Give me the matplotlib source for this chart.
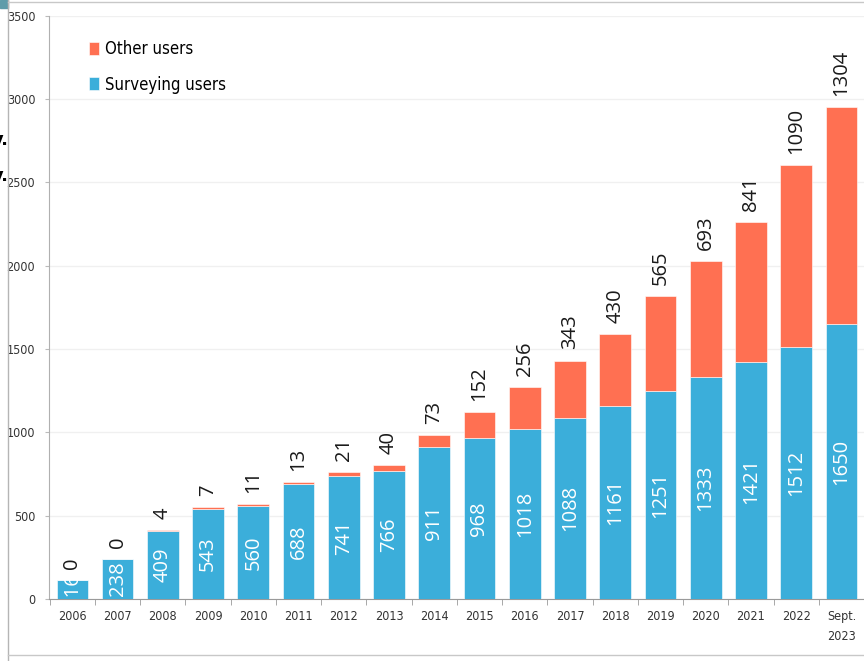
import matplotlib as mpl
mpl.use('Agg')
import matplotlib.pyplot as plt
import numpy as np
from matplotlib.patches import Rectangle
from matplotlib.lines import Line2D
from matplotlib.font_manager import FontProperties

# data
years = ['2006', '2007', '2008', '2009', '2010', '2011', '2012', '2013', '2014',
         '2015', '2016', '2017', '2018', '2019', '2020', '2021', '2022', 'Sept.\n2023']
surveying = [116, 238, 409, 543, 560, 688, 741, 766, 911,
             968, 1018, 1088, 1161, 1251, 1333, 1421, 1512, 1650]
other = [0, 0, 4, 7, 11, 13, 21, 40, 73,
         152, 256, 343, 430, 565, 693, 841, 1090, 1304]
yticks = [0, 500, 1000, 1500, 2000, 2500, 3000, 3500]

blue = '#3BAEDA'
orange = '#FF7052'
opensans = ['Open Sans', 'DejaVu Sans']
tickfont = FontProperties(family=['Liberation Sans Narrow', 'DejaVu Sans'],
                          stretch='condensed', size=9)
legfont = FontProperties(family=['Liberation Sans Narrow', 'DejaVu Sans'],
                         stretch='condensed', size=12)

W, H = 864, 661
fig = plt.figure(figsize=(W / 100, H / 100), dpi=100)
ax = fig.add_axes([49 / W, 1 - 599 / H, (W - 49) / W, (599 - 15.7) / H])

x = np.arange(len(years))
b1 = ax.bar(x, surveying, width=0.7, color=blue, edgecolor='white', linewidth=0.4,
            label='Surveying users', zorder=3)
b2 = ax.bar(x, other, width=0.7, bottom=surveying, color=orange, edgecolor='white',
            linewidth=0.4, label='Other users', zorder=3)

# labels inside the blue part
for rect, v in zip(b1, surveying):
    t = ax.text(rect.get_x() + rect.get_width() / 2, v / 2, str(v), rotation=90,
                ha='center', va='center', color='white', fontsize=14.5,
                family=opensans, zorder=4)
    t.set_clip_path(rect)

# labels above the bars
for xi, s, o in zip(x, surveying, other):
    ax.annotate(str(o), xy=(xi, s + o), xytext=(0, 8), textcoords='offset points',
                rotation=90, ha='center', va='bottom', color='#1a1a1a',
                fontsize=14.5, family=opensans, annotation_clip=False)

ax.set_xlim(-0.516, 17.4)
ax.set_ylim(0, 3500)
ax.set_yticks(yticks)
ax.set_xticks(x)
ax.set_xticklabels(years, fontproperties=tickfont, color='#333333', linespacing=1.7)
ax.set_xticks(np.arange(-0.5, len(years), 1.0), minor=True)
ax.tick_params(axis='x', which='major', length=0, pad=8)
ax.tick_params(axis='x', which='minor', length=4, color='#9a9a9a', direction='out')
ax.tick_params(axis='y', length=3, color='#bbbbbb', labelcolor='#333333', pad=7)
for lab in ax.get_yticklabels():
    lab.set_fontproperties(tickfont)

ax.grid(axis='y', color='#f0f0f0', linewidth=1, zorder=0)
for side in ['top', 'right']:
    ax.spines[side].set_visible(False)
ax.spines['left'].set_color('#b0b0b0')
ax.spines['bottom'].set_color('#9a9a9a')

# legend
ax.legend(handles=[b2, b1], loc='upper left', bbox_to_anchor=(74 / W, 1 - 25 / H),
          bbox_transform=fig.transFigure, frameon=False, prop=legfont,
          handlelength=0.6, handleheight=0.8, handletextpad=0.35, labelspacing=1.05)

# screenshot frame bits
fig.add_artist(Line2D([8 / W, 8 / W], [0, 1], transform=fig.transFigure, color='#b5b5b5', lw=1))
fig.add_artist(Line2D([8 / W, 1], [1 - 2 / H, 1 - 2 / H], transform=fig.transFigure, color='#c8c8c8', lw=1))
fig.add_artist(Line2D([8 / W, 1], [1 - 655 / H, 1 - 655 / H], transform=fig.transFigure, color='#c8c8c8', lw=1))
fig.add_artist(Rectangle((0, 1 - 8 / H), 8 / W, 8 / H, transform=fig.transFigure,
                         color='#5E9CAA'))
fig.text(-0.009, 1 - 140 / H, 'y.', fontsize=13, fontweight='bold', va='center', ha='left')
fig.text(-0.009, 1 - 176 / H, 'y.', fontsize=13, fontweight='bold', va='center', ha='left')

plt.savefig('out.png', dpi=100)
